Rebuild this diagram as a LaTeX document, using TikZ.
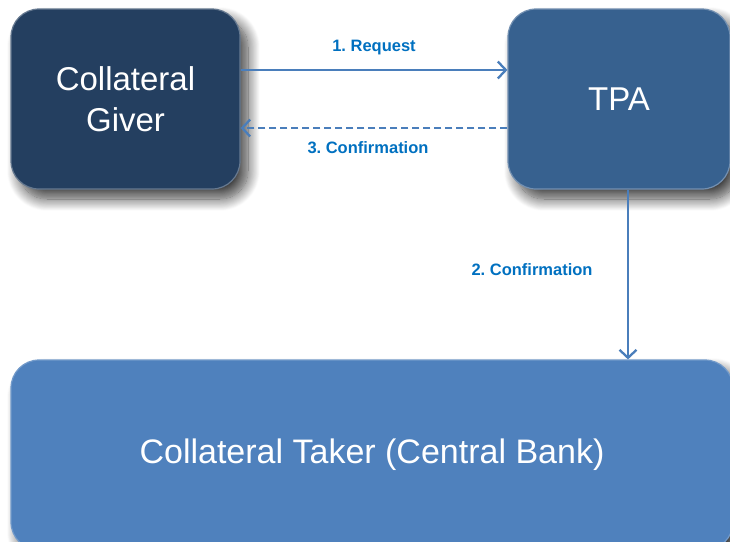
\documentclass[tikz,border=0pt]{standalone}
\usepackage{fontspec}
\setmainfont{Liberation Sans}
\usepackage{tikz}
\usetikzlibrary{arrows.meta}
\usetikzlibrary{shadows.blur}
\usetikzlibrary{positioning}
\definecolor{giverblue}{HTML}{243F60}
\definecolor{tpablue}{HTML}{37618F}
\definecolor{takerblue}{HTML}{4F81BD}
\definecolor{arrowblue}{HTML}{4A7EBB}
\definecolor{labelblue}{HTML}{0070C0}
\frenchspacing

\begin{document}
\begin{tikzpicture}[x=1pt,y=-1pt,
		party/.style={rectangle, rounded corners=28pt, text=white, align=center,
			font=\fontsize{33}{41}\selectfont, line width=1.2pt,
			blur shadow={shadow xshift=8pt, shadow yshift=-10pt, shadow blur radius=12pt, shadow blur steps=16, shadow opacity=75}},
		flow/.style={draw=arrowblue, line width=2.3pt, -{Straight Barb[length=8pt,width=17pt,line width=2.3pt]}},
		lbl/.style={text=labelblue, font=\fontsize{16.5}{18}\selectfont\bfseries}]
		\useasboundingbox (0,0) rectangle (730,541);
		\clip (0,0) rectangle (730,541);
		
		\node[party, fill=giverblue, draw=giverblue!70!white, minimum width=229pt, minimum height=180pt] (giver) at (125.5,99) {Collateral\\Giver};
		\node[party, fill=tpablue, draw=tpablue!70!white, minimum width=222pt, minimum height=180pt] (tpa) at (619,99) {TPA};
		\node[party, fill=takerblue, draw=takerblue!80!white, minimum width=722pt, minimum height=190pt, font=\fontsize{34}{41}\selectfont] (taker) at (372,455) {Collateral Taker (Central Bank)};
		
		%\draw[red] (giver.center) -- (tpa.center);
		\draw[flow] ([yshift=29pt]giver.east) -- node[lbl, yshift=22pt] (reqlbl) {1. Request} ([yshift=29pt]tpa.west);
		\draw[flow, dash pattern=on 7pt off 4pt] ([yshift=-29pt]tpa.west) -- node[lbl, yshift=-20pt, xshift=-6pt] (conflbl) {3. Confirmation} ([yshift=-29pt]giver.east);
		\draw[flow] ([xshift=9pt]tpa.south) -- node[lbl, anchor=east, xshift=-31pt, yshift=5pt] (tkrlbl) {2. Confirmation} ([xshift=9pt]tpa.south |- taker.north);
		\end{tikzpicture}
\end{document}
